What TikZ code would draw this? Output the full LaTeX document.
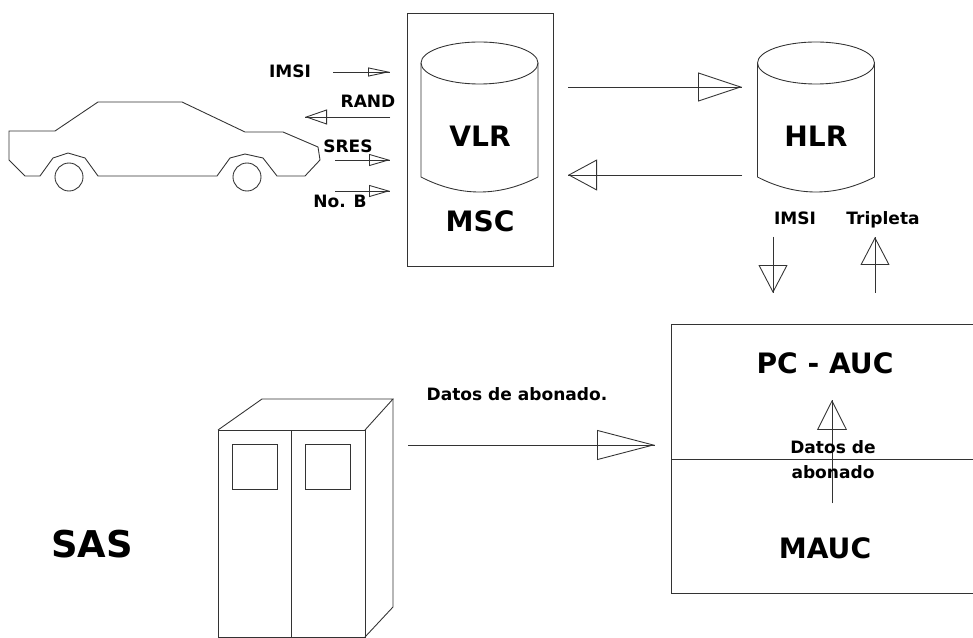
\documentclass[tikz,border=0pt]{standalone}
\usepackage{fontspec}
\setmainfont{DejaVu Sans}
\usetikzlibrary{arrows.meta}

\tikzset{
  % line runs through an open triangle head
  flow/.style 2 args={postaction={draw,-{Triangle[open,length=#1,width=#2]}}},
  bigtxt/.style={anchor=base, text=black, font=\fontsize{16}{18}\selectfont\bfseries},
  smalltxt/.style={anchor=base, text=black, font=\fontsize{9.7}{14}\selectfont\bfseries},
}

\begin{document}
\begin{tikzpicture}[x=0.02cm, y=-0.02cm, line width=0.5pt, color=black!80]
\clip (0,0) rectangle (973,638);

% the car
\draw (9,131) -- (55,131) -- (98,102) -- (182,102) -- (245,132) -- (283,132) -- (318,147) -- (320,160)
  -- (305,176) -- (277,176) -- (263,158) -- (245,154) -- (230,158) -- (217,176) -- (98,176)
  -- (85,158) -- (68,153) -- (53,158) -- (40,176) -- (25,176) -- (9,160) -- cycle;
\draw (69,177) circle[radius=14] (247,177) circle[radius=14];

% MSC box and the two data bases
\draw (407,13) rectangle (553,266);
\foreach \cx in {479.5,816} {
  \draw (\cx,63) ellipse[x radius=58.5, y radius=21];
  \draw (\cx-58.5,63) -- (\cx-58.5,177) .. controls (\cx-20,197) and (\cx+20,197) .. (\cx+58.5,177) -- (\cx+58.5,63);
}
\node[bigtxt] (vlr) at (480,147) {VLR};
\node[bigtxt] (msc) at (480,232) {MSC};
\node[bigtxt] (hlr) at (816,147) {HLR};

% signals between car and MSC
\node[smalltxt] (imsi) at (290,78) {IMSI};
\node[smalltxt] (rand) at (368,108) {RAND};
\node[smalltxt] (sres) at (348,153) {SRES};
\node[smalltxt] (nob) at (340,208) {No. B};
\coordinate (imsiA) at (333,72);  \coordinate (imsiB) at (390,72);
\coordinate (randA) at (390,117); \coordinate (randB) at (305,117);
\coordinate (sresA) at (335,160); \coordinate (sresB) at (390,160);
\coordinate (nobA) at (335,191);  \coordinate (nobB) at (390,191);
\draw[flow={0.44cm}{0.18cm}] (imsiA) -- (imsiB);
\draw[flow={0.44cm}{0.3cm}] (randA) -- (randB);
\draw[flow={0.42cm}{0.24cm}] (sresA) -- (sresB);
\draw[flow={0.42cm}{0.24cm}] (nobA) -- (nobB);

% VLR <-> HLR
\coordinate (v1) at (568,87);  \coordinate (h1) at (742,87);
\coordinate (h2) at (742,175); \coordinate (v2) at (568,175);
\draw[flow={0.88cm}{0.58cm}] (v1) -- (h1);
\draw[flow={0.58cm}{0.62cm}] (h2) -- (v2);

% HLR <-> AUC
\node[smalltxt] (imsiH) at (795,225) {IMSI};
\node[smalltxt] (trip) at (883,225) {Tripleta};
\coordinate (d1) at (773,237); \coordinate (d2) at (773,293);
\coordinate (u1) at (875,293); \coordinate (u2) at (875,237);
\draw[flow={0.56cm}{0.58cm}] (d1) -- (d2);
\draw[flow={0.56cm}{0.58cm}] (u1) -- (u2);

% AUC
\draw (671,324) rectangle (990,593);
\draw (671,459) -- (990,459);
\node[bigtxt] (pcauc) at (825,373) {PC - AUC};
\node[bigtxt] (mauc) at (825,558) {MAUC};
\coordinate (m1) at (832,503); \coordinate (m2) at (832,400);
\draw[flow={0.6cm}{0.6cm}] (m1) -- (m2);
\node[smalltxt, align=center] (datosB) at (833,478) {Datos de\\abonado};

% SAS cabinet
\draw (218,430) rectangle (365,637);
\draw (291,430) -- (291,637);
\draw (218,430) -- (262,399) -- (393,399) -- (365,430);
\draw (393,399) -- (393,607) -- (365,637);
\draw (232,444) rectangle (277,489);
\draw (305,444) rectangle (350,489);
\node[anchor=base, text=black, font=\fontsize{21}{24}\selectfont\bfseries] (sas) at (92,557) {SAS};

% SAS -> AUC
\node[smalltxt] (datosA) at (517,400) {Datos de abonado.};
\coordinate (s1) at (408,445); \coordinate (s2) at (655,445);
\draw[flow={1.16cm}{0.6cm}] (s1) -- (s2);
\end{tikzpicture}
\end{document}
